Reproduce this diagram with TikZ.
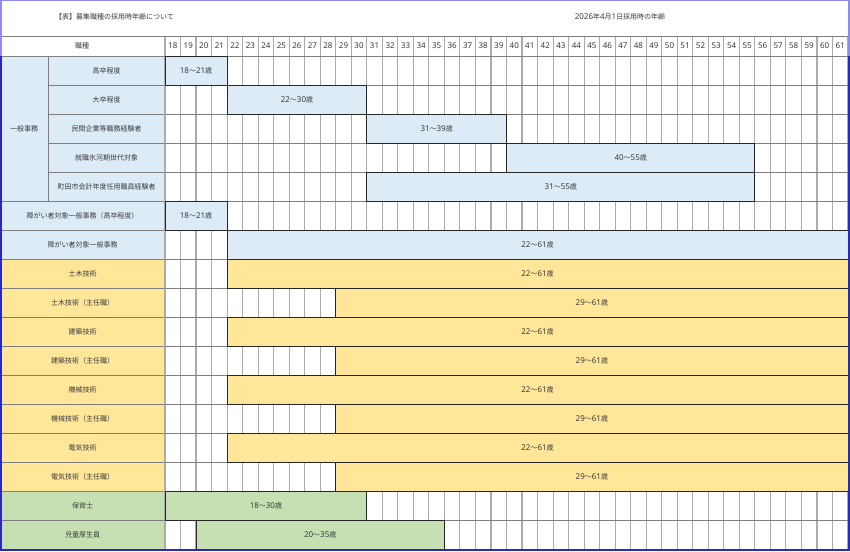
\documentclass[tikz,border=0pt]{standalone}
\usepackage{fontspec}
\setmainfont{Noto Sans CJK JP}
\newfontfamily\nf{Noto Sans}
\newcommand{\dg}[1]{{\nf\fontsize{8}{9}\selectfont #1}}
\newcommand{\rng}[2]{\dg{#1}～\dg{#2}歳}
\definecolor{cblue}{HTML}{DDEBF7}
\definecolor{cyel}{HTML}{FFE699}
\definecolor{cgrn}{HTML}{C6E0B4}
\definecolor{gridv}{HTML}{ABABAB}
\definecolor{gridh}{HTML}{7F7F7F}
\definecolor{txt}{HTML}{3A3A3A}
\definecolor{framedark}{HTML}{2A2AB8}
\definecolor{framelight}{HTML}{8C8CF2}
\begin{document}
\begin{tikzpicture}[x=1pt,y=-1pt,font=\fontsize{7}{9}\selectfont,text=txt,
  lab/.style={draw=gridh,line width=0.5pt,minimum height=29pt,inner sep=0pt,outer sep=0pt,anchor=north west},
  barbox/.style={draw=black!85,line width=0.9pt,minimum height=29pt,inner sep=0pt,outer sep=0pt,anchor=north west},
  hnum/.style={inner sep=0pt},
  vline/.style={draw=gridv,line width=1.1pt},
  hline/.style={draw=gridh,line width=0.5pt}]
\useasboundingbox (0,0) rectangle (850,551);
\fill[white] (0,0) rectangle (850,551);
\def\cw{15.523}
% label cells
\node[lab,fill=cblue,minimum width=48pt,minimum height=145pt] (g0) at (0,56) {一般事務};
\foreach \r/\t in {0/高卒程度,1/大卒程度,2/民間企業等職務経験者,3/就職氷河期世代対象,4/町田市会計年度任用職員経験者}{
  \pgfmathsetmacro\yy{56+29*\r}
  \node[lab,fill=cblue,minimum width=117pt] (l\r) at (48,\yy) {\t};
}
\foreach \r/\t/\c in {5/障がい者対象一般事務（高卒程度）/cblue,6/障がい者対象一般事務/cblue,
  7/土木技術/cyel,8/土木技術（主任職）/cyel,9/建築技術/cyel,10/建築技術（主任職）/cyel,
  11/機械技術/cyel,12/機械技術（主任職）/cyel,13/電気技術/cyel,14/電気技術（主任職）/cyel,
  15/保育士/cgrn,16/児童厚生員/cgrn}{
  \pgfmathsetmacro\yy{56+29*\r}
  \node[lab,fill=\c,minimum width=165pt] (l\r) at (0,\yy) {\t};
}
% grid
\foreach \i in {0,...,44}{
  \pgfmathsetmacro\xx{165+\i*\cw}
  \draw[vline] (\xx,36) -- (\xx,549);
}
\draw[hline] (0,36) -- (848,36);
\foreach \k in {0,...,17}{
  \pgfmathsetmacro\yy{56+29*\k}
  \draw[hline] (165,\yy) -- (848,\yy);
}
\draw[hline] (0,56) -- (165,56);
% header
\node (hd) at (82,46) {職種};
\foreach \a in {18,...,61}{
  \pgfmathsetmacro\xx{165+(\a-18+0.5)*\cw}
  \node[hnum] (h\a) at (\xx,46) {\dg{\a}};
}
% bars
\foreach \r/\s/\e/\c in {0/18/21/cblue,1/22/30/cblue,2/31/39/cblue,
  3/40/55/cblue,4/31/55/cblue,5/18/21/cblue,6/22/61/cblue,
  7/22/61/cyel,8/29/61/cyel,9/22/61/cyel,10/29/61/cyel,
  11/22/61/cyel,12/29/61/cyel,13/22/61/cyel,14/29/61/cyel,
  15/18/30/cgrn,16/20/35/cgrn}{
  \pgfmathsetmacro\bx{165+(\s-18)*\cw}
  \pgfmathsetmacro\bw{(\e-\s+1)*\cw}
  \pgfmathsetmacro\by{56+29*\r}
  \node[barbox,fill=\c,minimum width=\bw pt] (b\r) at (\bx,\by) {\rng{\s}{\e}};
}
% titles
\node[anchor=west,inner sep=0pt] (t1) at (55,17) {【表】募集職種の採用時年齢について};
\node[inner sep=0pt] (t2) at (620,17) {\dg{2026}年\dg{4}月\dg{1}日採用時の年齢};
% frame
\draw[framelight,line width=1.2pt] (1,56) -- (1,0.6) -- (849,0.6) -- (849,56);
\draw[framedark,line width=2pt] (1,56) -- (1,550) -- (849,550) -- (849,56);
\end{tikzpicture}
\end{document}
